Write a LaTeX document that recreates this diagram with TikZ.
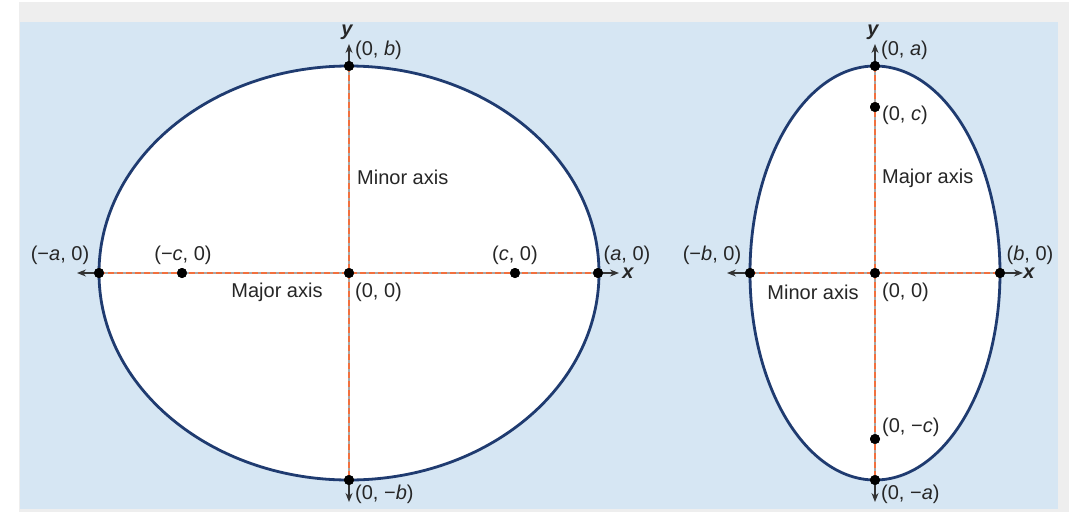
\documentclass[tikz,border=0pt]{standalone}
\usepackage{fontspec}
\setmainfont{Liberation Sans}
\usetikzlibrary{arrows.meta}
\definecolor{bgblue}{HTML}{D6E6F3}
\definecolor{bggrey}{HTML}{EEEEEE}
\definecolor{navy}{HTML}{1F3B70}
\definecolor{dashorange}{HTML}{F2703E}
\definecolor{axgrey}{HTML}{333333}
\definecolor{gapgrey}{HTML}{A8A8A8}
\tikzset{
  lbl/.style={font=\fontsize{20}{22}\selectfont, text=black!85, inner sep=0pt},
  axlbl/.style={font=\fontsize{20}{22}\selectfont\bfseries\itshape, text=black!85, inner sep=0pt},
  ell/.style={draw=navy, line width=2.8pt, fill=white},
  axisline/.style={draw=axgrey, line width=1.2pt, {Stealth[length=9pt,width=7pt]}-{Stealth[length=9pt,width=7pt]}},
  underlay/.style={draw=gapgrey, line width=1.4pt},
  dashline/.style={draw=dashorange, line width=2.6pt, dash pattern=on 6pt off 3pt},
  dot/.style={circle, fill=black, inner sep=0pt, minimum size=10pt},
}
\begin{document}
\begin{tikzpicture}[x=1pt,y=-1pt]
\useasboundingbox (0,0) rectangle (1074,512);
\fill[white] (0,0) rectangle (1074,512);
\fill[bggrey] (19,2) rectangle (1069,512);
\fill[bgblue] (20,22) rectangle (1058,509);

% ---------- left ellipse ----------
\coordinate (LC) at (349,273);
\draw[ell] (LC) ellipse [x radius=250pt, y radius=207pt];
\coordinate (Lxl) at (77,273);
\coordinate (Lxr) at (619,273);
\coordinate (Lyt) at (349,44);
\coordinate (Lyb) at (349,502);
\node[dot] (Lva) at (99,273) {};
\node[dot] (Lvb) at (598,273) {};
\node[dot] (Lvt) at (349,66) {};
\node[dot] (Lvbot) at (349,480) {};
\node[dot] (Lfl) at (182,273) {};
\node[dot] (Lfr) at (515,273) {};
\node[dot] (Lo) at (349,273) {};
\draw[axisline] (Lxl) -- (Lxr);
\draw[axisline] (Lyb) -- (Lyt);
\draw[underlay] (Lva.center) -- (Lvb.center);
\draw[underlay] (Lvt.center) -- (Lvbot.center);
\draw[dashline] (Lva.center) -- (Lvb.center);
\draw[dashline] (Lvt.center) -- (Lvbot.center);
\foreach \n in {Lva,Lvb,Lvt,Lvbot,Lfl,Lfr,Lo} \node[dot] at (\n) {};

\node[axlbl] (Lylab) at (347,32) {y};
\node[axlbl] (Lxlab) at (628,273) {x};
\node[lbl, anchor=west] (Llb) at (355,50) {(0, \textit{b})};
\node[lbl, anchor=west] (Llbm) at (355,494) {(0, −\textit{b})};
\node[lbl] (Llma) at (60,255) {(−\textit{a}, 0)};
\node[lbl] (Llmc) at (183,255) {(−\textit{c}, 0)};
\node[lbl] (Llc) at (515,255) {(\textit{c}, 0)};
\node[lbl] (Lla) at (627,255) {(\textit{a}, 0)};
\node[lbl] (Lmaj) at (277,292) {Major axis};
\node[lbl, anchor=west] (Lo0) at (355,292) {(0, 0)};
\node[lbl, anchor=west] (Lmin) at (357,177) {Minor axis};

% ---------- right ellipse ----------
\coordinate (RC) at (875,273);
\draw[ell] (RC) ellipse [x radius=125pt, y radius=207pt];
\coordinate (Rxl) at (727,273);
\coordinate (Rxr) at (1023,273);
\coordinate (Ryt) at (875,44);
\coordinate (Ryb) at (875,502);
\node[dot] (Rvl) at (750,273) {};
\node[dot] (Rvr) at (1000,273) {};
\node[dot] (Rvt) at (875,66) {};
\node[dot] (Rvb) at (875,480) {};
\node[dot] (Rft) at (875,107) {};
\node[dot] (Rfb) at (875,439) {};
\node[dot] (Ro) at (875,273) {};
\draw[axisline] (Rxl) -- (Rxr);
\draw[axisline] (Ryb) -- (Ryt);
\draw[underlay] (Rvl.center) -- (Rvr.center);
\draw[underlay] (Rvt.center) -- (Rvb.center);
\draw[dashline] (Rvl.center) -- (Rvr.center);
\draw[dashline] (Rvt.center) -- (Rvb.center);
\foreach \n in {Rvl,Rvr,Rvt,Rvb,Rft,Rfb,Ro} \node[dot] at (\n) {};

\node[axlbl] (Rylab) at (873,32) {y};
\node[axlbl] (Rxlab) at (1029,273) {x};
\node[lbl, anchor=west] (Rla) at (881,50) {(0, \textit{a})};
\node[lbl, anchor=west] (Rlc) at (882,115) {(0, \textit{c})};
\node[lbl, anchor=west] (Rmaj) at (882,178) {Major axis};
\node[lbl] (Rlmb) at (712,255) {(−\textit{b}, 0)};
\node[lbl] (Rlb) at (1030,255) {(\textit{b}, 0)};
\node[lbl] (Rmin) at (813,292) {Minor axis};
\node[lbl, anchor=west] (Ro0) at (882,292) {(0, 0)};
\node[lbl, anchor=west] (Rlcm) at (882,427) {(0, −\textit{c})};
\node[lbl, anchor=west] (Rlam) at (881,494) {(0, −\textit{a})};
\end{tikzpicture}
\end{document}
